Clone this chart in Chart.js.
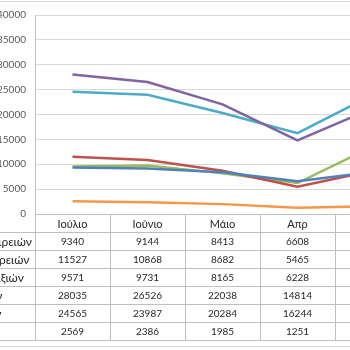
<!DOCTYPE html>
<html>
<head>
<meta charset="utf-8">
<script src="https://cdn.jsdelivr.net/npm/chart.js@4.4.1/dist/chart.umd.min.js"></script>
<style>
  html, body { margin: 0; padding: 0; background: #fff; overflow: hidden; }
  #wrap { width: 350px; height: 350px; overflow: hidden; position: relative; }
  #chart { position: absolute; left: 0; top: 0; }
</style>
</head>
<body>
<div id="wrap"><canvas id="chart" width="420" height="350"></canvas></div>
<script>
// categories (the 5th column is cut off at the right edge in the picture)
const months = ['Ιούλιο', 'Ιούνιο', 'Μάιο', 'Απρ', 'Μαρ'];

const seriesNames = [
  'Μεγάλων εταιρειών',
  'Μεσαίων εταιρειών',
  'Νέων συμπραξιών',
  'Νέων ιδρυτών',
  'Νέων εταίρων',
  'Διαλύσεων'
];

const blueVals   = [9340, 9144, 8413, 6608, 8430];
const redVals    = [11527, 10868, 8682, 5465, 8710];
const greenVals  = [9571, 9731, 8165, 6228, 13540];
const purpleVals = [28035, 26526, 22038, 14814, 21250];
const tealVals   = [24565, 23987, 20284, 16244, 23950];
const orangeVals = [2569, 2386, 1985, 1251, 1540];

const colors = ['#4F81BD', '#C0504D', '#9BBB59', '#8064A2', '#4BACC6', '#F79646'];
const FONT = '"Lato", "Noto Sans", sans-serif';

const allVals = [blueVals, redVals, greenVals, purpleVals, tealVals, orangeVals];

// draws the excel-style data table under the plot
const tablePlugin = {
  id: 'dataTable',
  beforeDraw(chart) {
    const ctx = chart.ctx;
    ctx.save();
    ctx.strokeStyle = '#d9d9d9';
    ctx.lineWidth = 1;
    ctx.beginPath();
    ctx.moveTo(0, 1.5); ctx.lineTo(chart.width, 1.5);
    ctx.moveTo(0, 346.5); ctx.lineTo(chart.width, 346.5);
    ctx.stroke();
    ctx.restore();
  },
  afterDraw(chart) {
    const ctx = chart.ctx;
    const x = chart.scales.x;
    const area = chart.chartArea;
    const colW = x.getPixelForValue(1) - x.getPixelForValue(0);
    const rowH = 18;
    const top = Math.round(area.bottom);
    const n = chart.data.datasets.length;
    const bottom = top + rowH * (n + 1);
    const right = area.left + colW * months.length;

    ctx.save();
    ctx.strokeStyle = '#bfbfbf';
    ctx.lineWidth = 1;
    ctx.beginPath();
    ctx.moveTo(area.left, top + 0.5);
    ctx.lineTo(right, top + 0.5);
    for (let k = 1; k <= n + 1; k++) {
      const y = top + rowH * k + 0.5;
      ctx.moveTo(-300, y);
      ctx.lineTo(right, y);
    }
    for (let i = 0; i <= months.length; i++) {
      const xx = Math.round(area.left + colW * i) + 0.5;
      ctx.moveTo(xx, top);
      ctx.lineTo(xx, bottom);
    }
    ctx.stroke();

    ctx.fillStyle = '#262626';
    ctx.textBaseline = 'middle';
    ctx.textAlign = 'center';
    ctx.font = '11px ' + FONT;
    months.forEach((m, i) => {
      ctx.fillText(m, x.getPixelForValue(i), top + rowH / 2 + 1);
    });
    ctx.font = '10px ' + FONT;
    chart.data.datasets.forEach((ds, r) => {
      const cy = top + rowH * (r + 1) + rowH / 2 + 1;
      ds.data.forEach((v, i) => {
        ctx.fillText(String(v), x.getPixelForValue(i), cy);
      });
    });

    ctx.font = '12px ' + FONT;
    ctx.textAlign = 'left';
    const x0 = area.left - 3 - ctx.measureText(seriesNames[0]).width;
    chart.data.datasets.forEach((ds, r) => {
      const cy = top + rowH * (r + 1) + rowH / 2 + 1;
      ctx.fillText(ds.label, x0, cy);
    });
    ctx.restore();
  }
};

const ctx = document.getElementById('chart').getContext('2d');
new Chart(ctx, {
  type: 'line',
  data: {
    labels: months,
    datasets: allVals.map((vals, i) => ({
      label: seriesNames[i],
      data: vals,
      borderColor: colors[i],
      backgroundColor: colors[i],
      borderWidth: 2.5,
      pointRadius: 0,
      tension: 0,
      fill: false
    }))
  },
  options: {
    responsive: false,
    animation: false,
    layout: { padding: { top: 13, bottom: 136, left: 0, right: 10 } },
    plugins: {
      legend: { display: false },
      tooltip: { enabled: false }
    },
    scales: {
      x: {
        display: false,
        offset: true
      },
      y: {
        min: 0,
        max: 40000,
        afterFit: s => { s.width = 35; },
        ticks: {
          stepSize: 5000,
          padding: 9,
          color: '#595959',
          font: { size: 10, family: FONT },
          callback: v => String(v)
        },
        grid: { color: '#d9d9d9', drawTicks: false },
        border: { color: '#bfbfbf' }
      }
    }
  },
  plugins: [tablePlugin]
});
</script>
</body>
</html>
